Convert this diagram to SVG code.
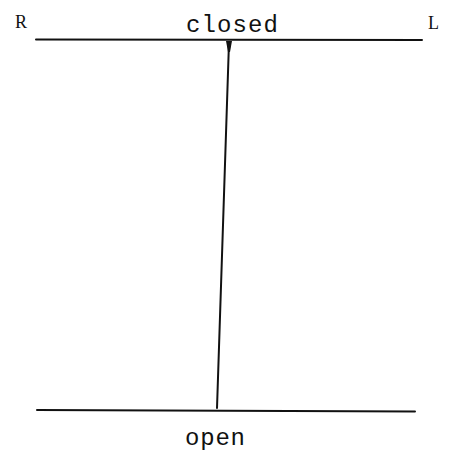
<svg xmlns="http://www.w3.org/2000/svg" width="458" height="452" viewBox="0 0 458 452">
<style>
.ln{stroke:#111;stroke-width:2;fill:none;stroke-linecap:round}
.tw{font-family:"Liberation Mono","DejaVu Sans Mono",monospace;font-size:24px;fill:#111}
.sf{font-family:"Liberation Serif","DejaVu Serif",serif;font-size:18px;fill:#111}
</style>
<rect width="458" height="452" fill="#fff"/>
<g id="closed">
<line class="ln" x1="36" y1="39.5" x2="422" y2="40"/>
<text class="tw" x="186" y="32" textLength="92" lengthAdjust="spacing">closed</text>
</g>
<g id="open">
<line class="ln" x1="37" y1="410" x2="415" y2="411.5"/>
<text class="tw" x="185" y="445" textLength="60" lengthAdjust="spacing">open</text>
</g>
<g id="R"><text class="sf" x="15" y="28">R</text></g>
<g id="L"><text class="sf" x="428" y="29">L</text></g>
<g id="connectors">
<line class="ln" x1="229" y1="42" x2="217" y2="408"/>
<path d="M226 41 L232 41 L230 52 L228 52 Z" fill="#111"/>
</g>
</svg>
